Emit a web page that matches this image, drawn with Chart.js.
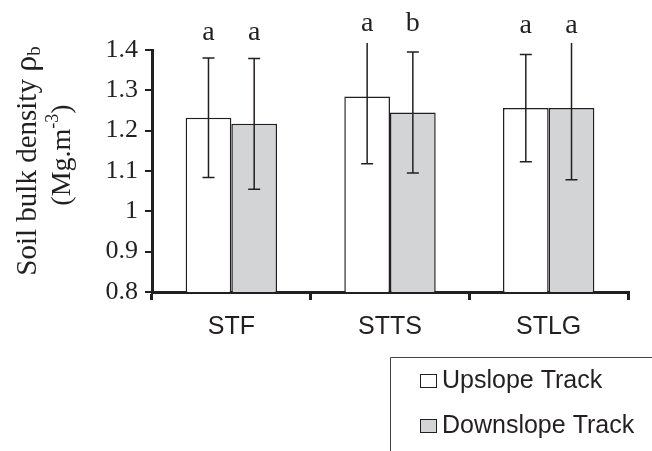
<!DOCTYPE html>
<html lang="en">
<head>
<meta charset="UTF-8">
<title>Soil bulk density</title>
<script src="https://cdn.jsdelivr.net/npm/chart.js@4.4.1/dist/chart.umd.min.js"></script>
<style>
  body { margin: 0; background: #fff; }
  canvas { display: block; }
</style>
</head>
<body>
<canvas id="chart" width="652" height="451"></canvas>
<script>
// data
const categories = ['STF', 'STTS', 'STLG'];
const upslope = [1.232, 1.285, 1.256];
const downslope = [1.217, 1.245, 1.256];
const upslopeErr = [0.148, 0.167, 0.133];
const downslopeErr = [0.162, 0.150, 0.178];
const upslopeLetters = ['a', 'a', 'a'];
const downslopeLetters = ['a', 'b', 'a'];
const letterLevel = [1.425, 1.448, 1.443]; // baseline of the letters, in axis units
const seriesNames = ['Upslope Track', 'Downslope Track'];

const ink = '#231f20';
const grey = '#d3d4d6';
const serif = "'Liberation Serif', 'Times New Roman', serif";
const sans = "'Liberation Sans', Arial, sans-serif";

const errors = [upslopeErr, downslopeErr];
const letters = [upslopeLetters, downslopeLetters];

// error bars and significance letters
const errorBars = {
  id: 'errorBars',
  afterDatasetsDraw(chart) {
    const ctx = chart.ctx;
    const y = chart.scales.y;
    const clipTop = chart.chartArea.top - 7;
    chart.data.datasets.forEach((ds, i) => {
      const meta = chart.getDatasetMeta(i);
      meta.data.forEach((bar, j) => {
        const v = ds.data[j], e = errors[i][j];
        const yHi = y.getPixelForValue(v + e);
        const yLo = y.getPixelForValue(v - e);
        ctx.save();
        ctx.beginPath();
        ctx.rect(0, clipTop, chart.width, chart.height);
        ctx.clip();
        ctx.strokeStyle = ink;
        ctx.lineWidth = 1.5;
        ctx.beginPath();
        ctx.moveTo(bar.x, yHi);
        ctx.lineTo(bar.x, yLo);
        ctx.moveTo(bar.x - 6, yLo);
        ctx.lineTo(bar.x + 6, yLo);
        if (yHi > clipTop) {
          ctx.moveTo(bar.x - 6, yHi);
          ctx.lineTo(bar.x + 6, yHi);
        }
        ctx.stroke();
        ctx.restore();

        ctx.save();
        ctx.fillStyle = ink;
        ctx.font = '28px ' + serif;
        ctx.textAlign = 'center';
        ctx.textBaseline = 'alphabetic';
        ctx.fillText(letters[i][j], bar.x, y.getPixelForValue(letterLevel[j]));
        ctx.restore();
      });
    });
  }
};

// rotated two-line y title with sub/superscripts, and the boxed legend
const decorations = {
  id: 'decorations',
  afterDraw(chart) {
    const ctx = chart.ctx;
    const midY = (chart.chartArea.top + chart.chartArea.bottom) / 2;
    ctx.save();
    ctx.fillStyle = ink;
    ctx.textBaseline = 'middle';

    function drawRuns(runs, cx, cy) {
      let total = 0;
      runs.forEach(r => { ctx.font = r.size + 'px ' + serif; r.w = ctx.measureText(r.t).width; total += r.w; });
      ctx.save();
      ctx.translate(cx, cy);
      ctx.rotate(-Math.PI / 2);
      let x = -total / 2;
      ctx.textAlign = 'left';
      runs.forEach(r => {
        ctx.font = r.size + 'px ' + serif;
        ctx.fillText(r.t, x, r.dy || 0);
        x += r.w;
      });
      ctx.restore();
    }
    drawRuns([
      { t: 'Soil bulk density ', size: 29 },
      { t: 'ρ', size: 32 },
      { t: 'b', size: 19, dy: 7 }
    ], 28, midY - 10);
    drawRuns([
      { t: '(Mg.m', size: 28 },
      { t: '-3', size: 18, dy: -10 },
      { t: ')', size: 28 }
    ], 63, midY - 16);

    // legend box (only top/left edges show, it runs off the page)
    const lx = 390, ly = 357;
    ctx.strokeStyle = '#444';
    ctx.lineWidth = 1;
    ctx.beginPath();
    ctx.moveTo(lx + 0.5, chart.height);
    ctx.lineTo(lx + 0.5, ly + 0.5);
    ctx.lineTo(chart.width, ly + 0.5);
    ctx.stroke();

    chart.data.datasets.forEach((ds, i) => {
      const cy = ly + 23 + i * 45;
      ctx.fillStyle = ds.backgroundColor;
      ctx.fillRect(420, cy - 6, 16, 13);
      ctx.strokeStyle = ink;
      ctx.lineWidth = 1;
      ctx.strokeRect(420.5, cy - 5.5, 16, 13);
      ctx.fillStyle = ink;
      ctx.font = '25px ' + sans;
      ctx.textAlign = 'left';
      ctx.fillText(ds.label, 442, cy + 1);
    });
    ctx.restore();
  }
};

new Chart(document.getElementById('chart'), {
  type: 'bar',
  data: {
    labels: categories,
    datasets: [
      { label: seriesNames[0], data: upslope, backgroundColor: '#ffffff', borderColor: ink, borderWidth: 1.5, borderSkipped: 'bottom' },
      { label: seriesNames[1], data: downslope, backgroundColor: grey, borderColor: ink, borderWidth: 1.5, borderSkipped: 'bottom' }
    ]
  },
  options: {
    responsive: false,
    animation: false,
    categoryPercentage: 0.576,
    barPercentage: 1,
    layout: { padding: { top: 50, right: 24, left: 0, bottom: 0 } },
    plugins: {
      legend: { display: false },
      tooltip: { enabled: false }
    },
    scales: {
      x: {
        offset: true,
        grid: { offset: true, drawOnChartArea: false, drawTicks: true, tickLength: 8, color: ink, lineWidth: 3 },
        border: { display: true, color: ink, width: 3 },
        ticks: { color: ink, font: { family: sans, size: 25 }, padding: 12 },
        afterFit(scale) { scale.height = 159; }
      },
      y: {
        min: 0.8,
        max: 1.4,
        grid: { drawOnChartArea: false, drawTicks: true, tickLength: 7, color: ink, lineWidth: 2 },
        border: { display: true, color: ink, width: 3 },
        ticks: {
          stepSize: 0.1,
          color: ink,
          padding: 7,
          font: { family: serif, size: 26 },
          callback: v => String(Number(v.toFixed(1)))
        },
        afterFit(scale) { scale.width = 152; }
      }
    }
  },
  plugins: [errorBars, decorations]
});
</script>
</body>
</html>
